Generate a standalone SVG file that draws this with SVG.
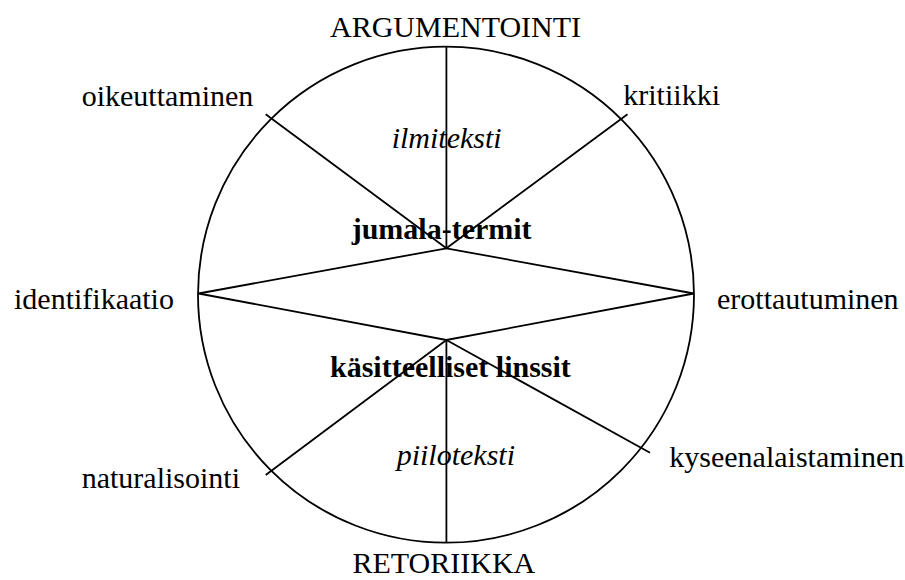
<svg xmlns="http://www.w3.org/2000/svg" width="905" height="580" viewBox="0 0 905 580">
<style>
text{font-family:'Liberation Serif','DejaVu Serif',serif;font-size:30px;fill:#000}
.it{font-style:italic}
.b{font-weight:bold}
.ln{stroke:#000;stroke-width:1.8;fill:none;stroke-linecap:butt}
</style>
<rect width="905" height="580" fill="#fff"/>
<g id="circle"><circle class="ln" cx="446" cy="294.7" r="248"/></g>
<g id="connectors">
<line class="ln" x1="446.4" y1="46.7" x2="446.4" y2="248.3"/>
<line class="ln" x1="446.4" y1="340" x2="446.4" y2="542.7"/>
<polygon class="ln" points="198.6,293.5 446.4,248.3 693.8,293.5 446.4,340"/>
<line class="ln" x1="265.7" y1="114.3" x2="446.4" y2="248.3"/>
<line class="ln" x1="627.5" y1="114.3" x2="446.4" y2="248.3"/>
<line class="ln" x1="265.7" y1="475" x2="446.4" y2="340"/>
<line class="ln" x1="650" y1="452.7" x2="446.4" y2="340"/>
</g>
<g id="argumentointi"><text x="330" y="36.7">ARGUMENTOINTI</text></g>
<g id="retoriikka"><text x="352.5" y="573">RETORIIKKA</text></g>
<g id="oikeuttaminen"><text x="81.7" y="106">oikeuttaminen</text></g>
<g id="kritiikki"><text x="623.3" y="105">kritiikki</text></g>
<g id="identifikaatio"><text x="14" y="309">identifikaatio</text></g>
<g id="erottautuminen"><text x="717" y="309">erottautuminen</text></g>
<g id="naturalisointi"><text x="81.7" y="487.7">naturalisointi</text></g>
<g id="kyseenalaistaminen"><text x="669.3" y="466.7">kyseenalaistaminen</text></g>
<g id="ilmiteksti"><text class="it" x="391.7" y="148.3">ilmiteksti</text></g>
<g id="jumala-termit"><text class="b" x="351.7" y="239.3">jumala-termit</text></g>
<g id="kasitteelliset-linssit"><text class="b" x="330" y="376.7">käsitteelliset linssit</text></g>
<g id="piiloteksti"><text class="it" x="396.7" y="465">piiloteksti</text></g>
</svg>
